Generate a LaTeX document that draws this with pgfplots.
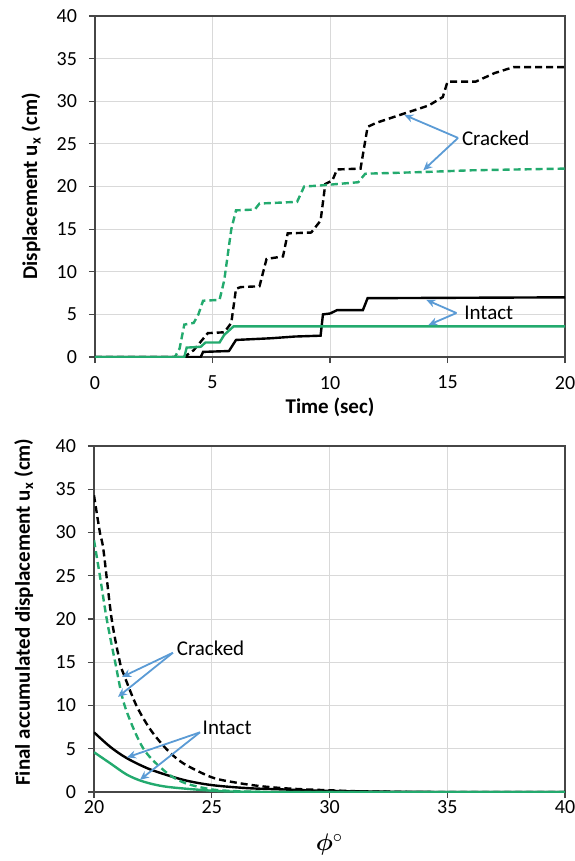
\documentclass[border=0pt]{standalone}
\usepackage{pgfplots}
\pgfplotsset{compat=1.18}
\usepackage{fontspec}
\setmainfont{Carlito}
\usepackage{amsmath,bm}
\usetikzlibrary{arrows.meta}

\definecolor{cgreen}{RGB}{35,170,110}
\definecolor{carrow}{RGB}{91,155,213}
\definecolor{cgrid}{RGB}{217,217,217}
\definecolor{cframe}{RGB}{70,70,70}

\tikzset{arr/.style={carrow, line width=0.9pt, -{Stealth[length=4.5pt,width=4pt]}}}

\pgfplotsset{
  panel/.style={
    scale only axis,
    axis line style={cframe, line width=0.7pt},
    grid=major, grid style={cgrid, line width=0.5pt},
    tick align=outside, major tick length=3pt,
    tick style={cframe, line width=0.6pt},
    xtick pos=bottom, ytick pos=left,
    ymin=0, ymax=40, ytick={0,5,...,40},
    /pgf/number format/assume math mode=true,
    tick label style={font=\fontsize{10}{11}\selectfont},
    yticklabel style={xshift=-2.5pt},
    label style={font=\fontsize{10.5}{12}\selectfont\bfseries},
  },
  dash/.style={line width=1.2pt, dash pattern=on 3.5pt off 2pt},
  sol/.style={line width=1.2pt},
}

\begin{document}
\begin{tikzpicture}
\path[use as bounding box] (0,0) rectangle (287pt,-430.5pt);

% top panel: displacement time history
\begin{axis}[panel, at={(47.5pt,-178.5pt)}, anchor=south west,
  width=235pt, height=170.5pt,
  xmin=0, xmax=20, xtick={0,5,...,20},
  xticklabel style={yshift=-3pt},
  xlabel={Time (sec)}, ylabel={Displacement u\textsubscript{x} (cm)},
  xlabel style={at={(axis description cs:0.5,-0.147)}, anchor=center},
  ylabel style={at={(axis description cs:-0.136,0.5)}, anchor=center, rotate=0}]
\addplot[dash, black] coordinates {(0,0) (3.8,0) (4.2,0.8) (4.5,1.8) (4.8,2.8) (5.5,2.9) (5.8,4) (6.0,8) (6.2,8.2) (7.0,8.3) (7.3,11.5) (8.0,11.8) (8.2,14.5) (9.2,14.6) (9.6,16) (9.8,20.3) (10.1,20.7) (10.3,22) (11.3,22.1) (11.6,27) (12,27.5) (13.2,28.6) (14.2,29.5) (14.8,30.5) (15.0,32.3) (16.2,32.3) (17,33.3) (17.8,34) (20,34)};
\addplot[dash, cgreen] coordinates {(0,0) (3.4,0) (3.6,1) (3.8,3.8) (4.2,4) (4.4,5) (4.6,6.6) (5.3,6.7) (5.5,9) (5.8,15) (6.0,17.2) (6.8,17.3) (7.0,18) (8.6,18.2) (8.9,20) (9.5,20.1) (11.2,20.5) (11.5,21.5) (14,21.7) (16,21.9) (20,22.1)};
\addplot[sol, black] coordinates {(0,0) (4.5,0) (4.6,0.6) (5.7,0.7) (6.0,2.0) (7.5,2.2) (8.5,2.4) (9.6,2.5) (9.7,5.0) (10.0,5.1) (10.3,5.5) (11.4,5.5) (11.6,6.9) (20,7.0)};
\addplot[sol, cgreen] coordinates {(0,0) (3.8,0) (3.9,1.1) (4.5,1.2) (4.7,1.7) (5.3,1.7) (5.5,2.6) (5.9,3.6) (20,3.6)};
\draw[arr] (axis cs:15.45,25.7) -- (axis cs:13.16,28.4);
\draw[arr] (axis cs:15.45,25.7) -- (axis cs:13.97,21.9);
\node[anchor=west, font=\fontsize{10.5}{12}\selectfont, inner sep=0pt] at (axis cs:15.6,25.7) {Cracked};
\draw[arr] (axis cs:15.38,5.16) -- (axis cs:14.1,6.7);
\draw[arr] (axis cs:15.38,5.16) -- (axis cs:14.19,3.75);
\node[anchor=west, font=\fontsize{10.5}{12}\selectfont, inner sep=0pt] at (axis cs:15.7,5.16) {Intact};
\end{axis}

% bottom panel: final displacement vs friction angle
\begin{axis}[panel, at={(47pt,-396pt)}, anchor=south west,
  width=235.5pt, height=173pt,
  xmin=20, xmax=40, xtick={20,25,...,40},
  xticklabel style={inner ysep=1pt},
  xlabel={$\bm{\phi}^{\circ}$}, ylabel={Final accumulated displacement u\textsubscript{x} (cm)},
  xlabel style={at={(axis description cs:0.5,-0.12)}, anchor=north, inner sep=0pt, font=\fontsize{13}{14}\selectfont},
  ylabel style={at={(axis description cs:-0.149,0.52)}, anchor=center}]
\addplot[dash, black, smooth, tension=0.5] coordinates {(20,34.3) (20.25,30) (20.4,28) (20.75,20) (21.1,15) (21.25,13.7) (21.8,10) (22.4,7.2) (23.1,4.9) (23.8,3.3) (25,1.7) (26,1.1) (27,0.7) (28,0.45) (29,0.3) (30,0.2) (31,0.1) (32,0.05) (33,0.02) (34,0) (40,0)};
\addplot[sol, black, smooth, tension=0.5] coordinates {(20,6.9) (20.7,5.2) (21.4,3.9) (22.4,2.6) (23.8,1.4) (25,0.8) (26.5,0.45) (28,0.3) (30,0.12) (32,0.05) (34,0.01) (36,0) (40,0)};
\addplot[dash, cgreen, smooth, tension=0.5] coordinates {(20,29.1) (20.25,25) (20.54,20) (20.9,15) (21.3,10) (22.1,5) (23.1,2.2) (23.9,1.0) (25,0.3) (26,0.1) (27,0.02) (28,0) (40,0)};
\addplot[sol, cgreen, smooth, tension=0.5] coordinates {(20,4.6) (20.7,3.3) (21.4,2.0) (22.1,1.2) (23.1,0.6) (25,0.15) (26,0.05) (27,0.01) (28,0) (40,0)};
\draw[arr] (axis cs:23.35,16.1) -- (axis cs:21.19,13.3);
\draw[arr] (axis cs:23.35,16.1) -- (axis cs:21.02,11.0);
\node[anchor=west, font=\fontsize{10.5}{12}\selectfont, inner sep=0pt] at (axis cs:23.5,16.6) {Cracked};
\draw[arr] (axis cs:24.5,6.9) -- (axis cs:21.4,4.0);
\draw[arr] (axis cs:24.5,6.9) -- (axis cs:21.95,1.4);
\node[anchor=west, font=\fontsize{10.5}{12}\selectfont, inner sep=0pt] at (axis cs:24.6,7.4) {Intact};
\end{axis}
\end{tikzpicture}
\end{document}
